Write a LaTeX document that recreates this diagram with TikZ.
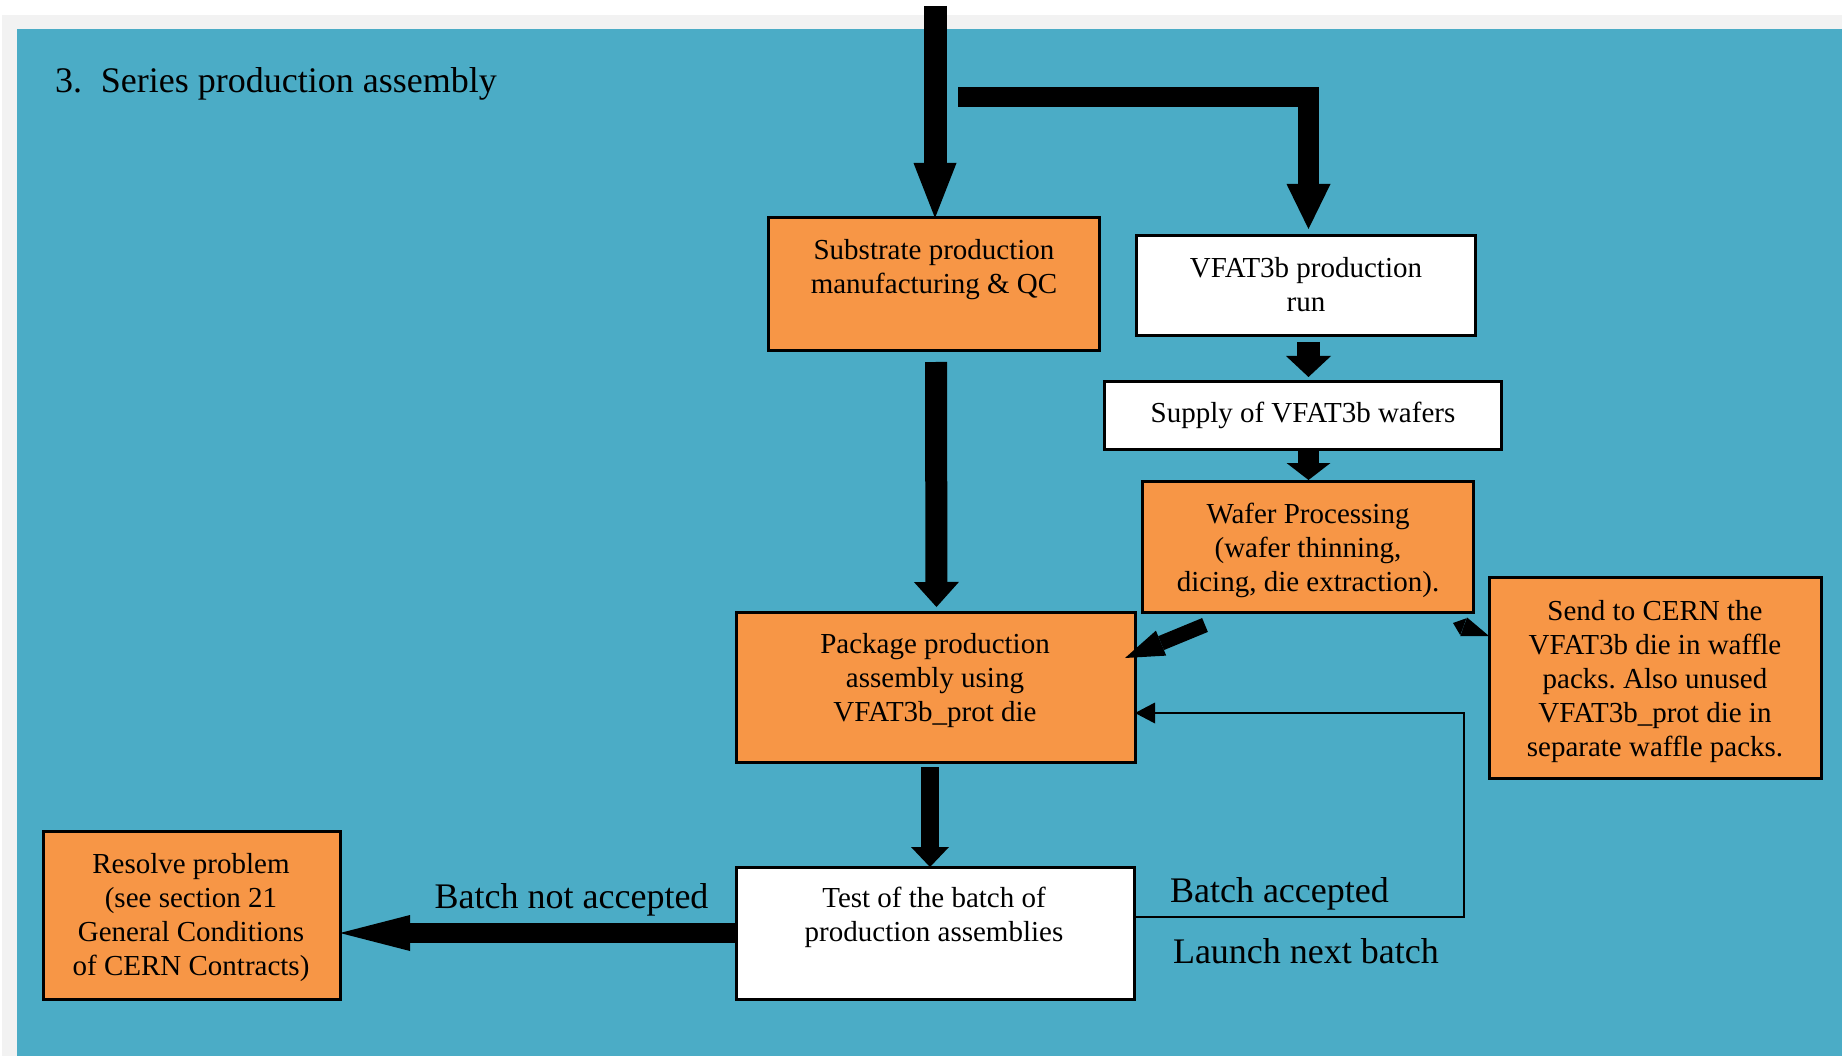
\documentclass[tikz,border=0pt]{standalone}
\usepackage{fontspec}
\setmainfont{Liberation Serif}
\usetikzlibrary{arrows.meta,calc}
\definecolor{panelblue}{HTML}{4BACC6}
\definecolor{boxorange}{HTML}{F79646}
\definecolor{margingray}{HTML}{F2F2F2}
\newcommand{\mlines}[1]{\begin{tabular}[t]{@{}c@{}}#1\end{tabular}}
\frenchspacing
\begin{document}
\begin{tikzpicture}[x=1pt,y=-1pt,
  boxbase/.style={draw=black, line width=3pt, inner sep=0pt, outer sep=0pt},
  obox/.style={boxbase, fill=boxorange},
  wbox/.style={boxbase, fill=white},
  boxtext/.style={anchor=base, inner sep=0pt, outer sep=0pt, font=\fontsize{29}{34}\selectfont},
  bigtext/.style={inner sep=0pt, outer sep=0pt, font=\fontsize{36}{42}\selectfont},
  blockarrow/.style n args={3}{draw=black, line width=#1, line join=miter,
     -{Triangle[width=#2,length=#3,line width=0pt]}},
  thinarrow/.style={draw=black, line width=2.5pt, -{Triangle[width=21pt,length=20pt,line width=0pt]}},
  twoway/.style={draw=black, line width=6pt,
     {Triangle[width=18pt,length=11pt,line width=0pt]}-{Triangle[width=20pt,length=27pt,line width=0pt]}},
]
\useasboundingbox (0,0) rectangle (1842,1056);
% background
\fill[white] (0,0) rectangle (1842,1056);
\fill[margingray] (2,15) rectangle (1842,1056);
\fill[panelblue] (17,29) rectangle (1842,1056);

% title
\node[bigtext, anchor=base west] (title) at (55,93) {3.\hspace{19pt}Series production assembly};

% boxes
\node[obox, minimum width=331pt, minimum height=133pt] (sub) at (933.5,284.5) {};
\node[wbox, minimum width=339pt, minimum height=100pt] (vfat) at (1305.5,286) {};
\node[wbox, minimum width=397pt, minimum height=67pt] (supply) at (1302.5,415.5) {};
\node[obox, minimum width=331pt, minimum height=131pt] (wafer) at (1307.5,546.5) {};
\node[obox, minimum width=332pt, minimum height=201pt] (send) at (1655,677.5) {};
\node[obox, minimum width=399pt, minimum height=150pt] (pkg) at (935.5,687) {};
\node[wbox, minimum width=398pt, minimum height=132pt] (test) at (935,933) {};
\node[obox, minimum width=297pt, minimum height=168pt] (resolve) at (191.5,915) {};

% box texts
\node[boxtext] (subT) at (934,260) {\mlines{Substrate production\\manufacturing \& QC}};
\node[boxtext] (vfatT) at (1306,278) {\mlines{VFAT3b production\\run}};
\node[boxtext] (supplyT) at (1303,422) {Supply of VFAT3b wafers};
\node[boxtext] (waferT) at (1308,523) {\mlines{Wafer Processing\\(wafer thinning,\\dicing, die extraction).}};
\node[boxtext] (sendT) at (1655,620) {\mlines{Send to CERN the\\VFAT3b die in waffle\\packs. Also unused\\VFAT3b\_prot die in\\separate waffle packs.}};
\node[boxtext] (pkgT) at (935,653) {\mlines{Package production\\assembly using\\VFAT3b\_prot die}};
\node[boxtext] (testT) at (934,907) {\mlines{Test of the batch of\\production assemblies}};
\node[boxtext] (resolveT) at (191,873) {\mlines{Resolve problem\\(see section 21\\General Conditions\\of CERN Contracts)}};

% free ends
\coordinate (top1) at (935,6);
\coordinate (Lstart) at (958,97);
\coordinate (fbc) at (1464,713);

% arrows
\draw[blockarrow={23pt}{43pt}{55pt}] (top1) -- (top1 |- sub.north);
\draw[blockarrow={20.5pt}{44pt}{45pt}, shorten >=7pt] (Lstart) -| ([xshift=3pt]vfat.north);
\draw[blockarrow={23pt}{45pt}{21pt}, shorten >=5pt] ([xshift=3pt,yshift=-6pt]vfat.south) -- ([xshift=6pt]supply.north);
\draw[blockarrow={21pt}{44pt}{17pt}, shorten >=1pt] ([xshift=6pt,yshift=1pt]supply.south) -- ([xshift=1pt]wafer.north);
\draw[blockarrow={22pt}{45pt}{25pt}, shorten >=5pt] ([xshift=2.5pt,yshift=-11pt]sub.south) -- ([xshift=1pt]pkg.north);
\draw[blockarrow={18pt}{38pt}{20pt}] ([xshift=-5.5pt,yshift=-5pt]pkg.south) -- ([xshift=-5pt]test.north);
\draw[blockarrow={15pt}{27pt}{39pt}] ([xshift=63pt,yshift=-13pt]wafer.south west) -- ([xshift=-10pt,yshift=29pt]pkg.east);
\draw[twoway] ([xshift=-20pt,yshift=-11pt]wafer.south east) -- ([yshift=-59pt]send.north west);
\draw[thinarrow] ([yshift=16pt]test.east) -| (fbc) -- ([yshift=-26pt]pkg.east);
\draw[blockarrow={20pt}{36pt}{70pt}] (test.west) -- (test.west -| resolve.east);

% labels
\node[bigtext, anchor=base] (notacc) at (571.5,908) {Batch not accepted};
\node[bigtext, anchor=base west] (acc) at (1170,902) {Batch accepted};
\node[bigtext, anchor=base west] (launch) at (1173,963) {Launch next batch};
\end{tikzpicture}
\end{document}
